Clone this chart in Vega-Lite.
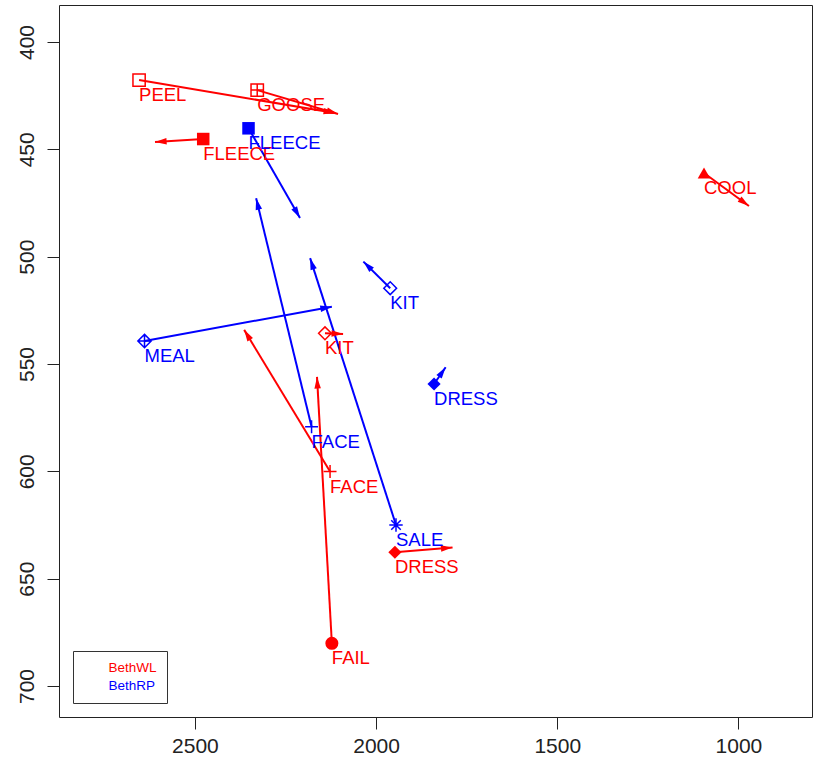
{
  "$schema": "https://vega.github.io/schema/vega-lite/v6.json",
  "autosize": {"type": "none"},
  "width": 753,
  "height": 712,
  "padding": {"left": 59, "top": 5, "right": 5, "bottom": 46},
  "background": "white",
  "config": {
    "font": "Liberation Sans",
    "view": {"stroke": "#222", "strokeWidth": 1},
    "axis": {"grid": false, "domain": false, "tickColor": "#222", "tickSize": 12, "tickWidth": 1, "labelFontSize": 21, "labelColor": "#222", "labelFont": "Liberation Sans", "title": null}
  },
  "data": {
    "values": [
      {"speaker": "BethWL", "vowel": "PEEL", "f2_start": 2654, "f1_start": 417.7, "f2_end": 2113, "f1_end": 433.1},
      {"speaker": "BethWL", "vowel": "GOOSE", "f2_start": 2328, "f1_start": 422.4, "f2_end": 2105, "f1_end": 433.5},
      {"speaker": "BethWL", "vowel": "FLEECE", "f2_start": 2477, "f1_start": 445.2, "f2_end": 2610, "f1_end": 446.6},
      {"speaker": "BethWL", "vowel": "COOL", "f2_start": 1095, "f1_start": 461.0, "f2_end": 971, "f1_end": 476.4},
      {"speaker": "BethWL", "vowel": "KIT", "f2_start": 2141, "f1_start": 535.7, "f2_end": 2091, "f1_end": 536.0},
      {"speaker": "BethWL", "vowel": "FACE", "f2_start": 2127, "f1_start": 600.1, "f2_end": 2364, "f1_end": 534.1},
      {"speaker": "BethWL", "vowel": "FAIL", "f2_start": 2122, "f1_start": 680.1, "f2_end": 2163, "f1_end": 556.0},
      {"speaker": "BethWL", "vowel": "DRESS", "f2_start": 1948, "f1_start": 637.7, "f2_end": 1789, "f1_end": 635.5},
      {"speaker": "BethRP", "vowel": "FLEECE", "f2_start": 2352, "f1_start": 440.2, "f2_end": 2210, "f1_end": 482.0},
      {"speaker": "BethRP", "vowel": "KIT", "f2_start": 1961, "f1_start": 514.7, "f2_end": 2035, "f1_end": 502.3},
      {"speaker": "BethRP", "vowel": "MEAL", "f2_start": 2639, "f1_start": 539.3, "f2_end": 2122, "f1_end": 523.3},
      {"speaker": "BethRP", "vowel": "FACE", "f2_start": 2178, "f1_start": 579.2, "f2_end": 2331, "f1_end": 472.8},
      {"speaker": "BethRP", "vowel": "SALE", "f2_start": 1945, "f1_start": 625.0, "f2_end": 2182, "f1_end": 500.7},
      {"speaker": "BethRP", "vowel": "DRESS", "f2_start": 1840, "f1_start": 559.3, "f2_end": 1808, "f1_end": 551.5}
    ]
  },
  "encoding": {
    "color": {
      "field": "speaker", "type": "nominal",
      "scale": {"domain": ["BethWL", "BethRP"], "range": ["#ff0000", "#0000ff"]},
      "legend": {
        "title": null, "orient": "none", "legendX": 14, "legendY": 646,
        "padding": 10, "strokeColor": "#333", "fillColor": "white",
        "symbolSize": 0, "symbolOpacity": 0, "symbolStrokeWidth": 0,
        "labelOffset": 12, "rowPadding": 3.5, "labelFontSize": 13.5,
        "labelFont": "Liberation Sans",
        "labelColor": {"expr": "datum.value === 'BethWL' ? '#ff0000' : '#0000ff'"}
      }
    }
  },
  "layer": [
    {
      "mark": {"type": "rule", "strokeWidth": 2},
      "encoding": {
        "x": {"field": "f2_start", "type": "quantitative",
              "scale": {"domain": [797, 2875], "reverse": true, "zero": false, "nice": false},
              "axis": {"values": [2500, 2000, 1500, 1000], "format": "d", "labelPadding": 6}},
        "y": {"field": "f1_start", "type": "quantitative",
              "scale": {"domain": [382.76, 714.44], "reverse": true, "zero": false, "nice": false},
              "axis": {"values": [400, 450, 500, 550, 600, 650, 700], "format": "d", "labelAngle": -90, "labelPadding": 10}},
        "x2": {"field": "f2_end"},
        "y2": {"field": "f1_end"}
      }
    },
    {
      "mark": {"type": "point", "filled": true, "opacity": 1,
               "angle": {"expr": "atan2(scale('x', datum.f2_end) - scale('x', datum.f2_start), -(scale('y', datum.f1_end) - scale('y', datum.f1_start))) * 180 / PI"},
               "shape": "M-0.45,1.6L0,0L0.45,1.6Z", "size": 210},
      "encoding": {
        "x": {"field": "f2_end", "type": "quantitative"},
        "y": {"field": "f1_end", "type": "quantitative"}
      }
    },
    {
      "transform": [{"filter": {"field": "vowel", "oneOf": ["FLEECE", "COOL", "FAIL", "DRESS"]}}],
      "mark": {"type": "point", "filled": true, "opacity": 1},
      "encoding": {
        "x": {"field": "f2_start", "type": "quantitative"},
        "y": {"field": "f1_start", "type": "quantitative"},
        "shape": {"field": "vowel", "type": "nominal", "legend": null,
                  "scale": {"domain": ["PEEL", "GOOSE", "FLEECE", "COOL", "KIT", "FACE", "FAIL", "DRESS", "MEAL", "SALE"],
                            "range": ["square", "M-1,-1H1V1H-1ZM-1,0H1M0,-1V1", "square", "triangle-up", "diamond", "M-1,0H1M0,-1V1", "circle", "diamond", "M0,-1L1,0L0,1L-1,0ZM-1,0H1M0,-1V1", "M-1,0H1M0,-1V1M-0.71,-0.71L0.71,0.71M-0.71,0.71L0.71,-0.71"]}},
        "size": {"field": "vowel", "type": "ordinal", "legend": null,
                 "scale": {"domain": ["PEEL", "GOOSE", "FLEECE", "COOL", "KIT", "FACE", "FAIL", "DRESS", "MEAL", "SALE"],
                           "range": [150, 180, 130, 170, 250, 200, 150, 110, 260, 260]}}
      }
    },
    {
      "transform": [{"filter": {"field": "vowel", "oneOf": ["PEEL", "GOOSE", "KIT", "FACE", "MEAL", "SALE"]}}],
      "mark": {"type": "point", "filled": false, "opacity": 1, "strokeWidth": 1.5},
      "encoding": {
        "x": {"field": "f2_start", "type": "quantitative"},
        "y": {"field": "f1_start", "type": "quantitative"},
        "shape": {"field": "vowel", "type": "nominal", "legend": null},
        "size": {"field": "vowel", "type": "ordinal", "legend": null}
      }
    },
    {
      "mark": {"type": "text", "align": "left", "baseline": "top", "dx": 0, "dy": 6, "fontSize": 18.5, "font": "Liberation Sans"},
      "encoding": {
        "x": {"field": "f2_start", "type": "quantitative"},
        "y": {"field": "f1_start", "type": "quantitative"},
        "text": {"field": "vowel"}
      }
    }
  ]
}
